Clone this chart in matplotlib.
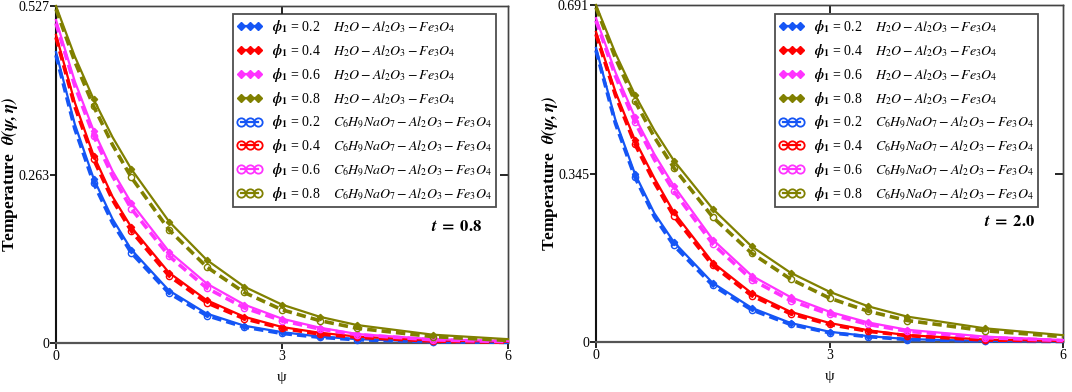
import matplotlib
matplotlib.use("Agg")
import matplotlib.pyplot as plt
from matplotlib.lines import Line2D

plt.rcParams['mathtext.fontset'] = 'stix'
plt.rcParams['font.family'] = ['Liberation Serif', 'DejaVu Serif']

psi = [0, 0.25, 0.5, 0.75, 1, 1.5, 2, 2.5, 3, 3.5, 4, 5, 6]
phi_labels = ["0.2", "0.4", "0.6", "0.8"]
colors = ['#1555f5', '#ff0000', '#ff33ff', '#808000']

# t = 0.8 panel
left_h2o = [
    [0.455, 0.342, 0.257, 0.194, 0.146, 0.082, 0.046, 0.027, 0.017, 0.010, 0.006, 0.002, 0.001],
    [0.482, 0.376, 0.293, 0.229, 0.181, 0.110, 0.067, 0.041, 0.025, 0.016, 0.010, 0.004, 0.002],
    [0.505, 0.409, 0.332, 0.269, 0.219, 0.143, 0.093, 0.060, 0.038, 0.024, 0.014, 0.006, 0.003],
    [0.527, 0.448, 0.381, 0.322, 0.272, 0.190, 0.130, 0.088, 0.060, 0.041, 0.028, 0.013, 0.006],
]
left_c6 = [
    [0.450, 0.335, 0.250, 0.188, 0.141, 0.078, 0.043, 0.025, 0.015, 0.009, 0.005, 0.002, 0.001],
    [0.478, 0.370, 0.287, 0.224, 0.175, 0.105, 0.063, 0.038, 0.023, 0.014, 0.009, 0.003, 0.001],
    [0.500, 0.402, 0.324, 0.261, 0.210, 0.136, 0.086, 0.055, 0.035, 0.022, 0.013, 0.005, 0.002],
    [0.522, 0.440, 0.370, 0.310, 0.259, 0.177, 0.119, 0.079, 0.052, 0.035, 0.023, 0.010, 0.004],
]
# t = 2.0 panel
right_h2o = [
    [0.603, 0.455, 0.345, 0.264, 0.205, 0.121, 0.070, 0.039, 0.021, 0.012, 0.006, 0.002, 0.001],
    [0.636, 0.513, 0.414, 0.336, 0.266, 0.163, 0.100, 0.062, 0.039, 0.024, 0.014, 0.005, 0.002],
    [0.664, 0.553, 0.461, 0.385, 0.320, 0.210, 0.136, 0.092, 0.062, 0.040, 0.025, 0.011, 0.004],
    [0.691, 0.592, 0.507, 0.434, 0.372, 0.273, 0.196, 0.142, 0.103, 0.073, 0.052, 0.028, 0.014],
]
right_c6 = [
    [0.598, 0.448, 0.338, 0.257, 0.198, 0.116, 0.066, 0.036, 0.019, 0.011, 0.005, 0.002, 0.001],
    [0.631, 0.506, 0.406, 0.327, 0.258, 0.157, 0.095, 0.058, 0.036, 0.022, 0.013, 0.004, 0.002],
    [0.659, 0.545, 0.451, 0.374, 0.309, 0.201, 0.128, 0.085, 0.057, 0.036, 0.022, 0.009, 0.003],
    [0.686, 0.582, 0.494, 0.420, 0.357, 0.256, 0.182, 0.129, 0.090, 0.063, 0.044, 0.023, 0.011],
]
left_yticks = [0, 0.263, 0.527]
right_yticks = [0, 0.345, 0.691]
xticks = [0, 3, 6]
marker_idx = [2, 4, 5, 6, 7, 8, 9, 10, 11]

fig = plt.figure(figsize=(10.72, 3.92), dpi=100)
ax1 = fig.add_axes([56/1072, 49/392, 452/1072, 337/392])
ax2 = fig.add_axes([596/1072, 50/392, 467/1072, 337/392])


def panel(ax, h2o, c6, yticks, ylabels, tlabel, tpos, legbox, ylab_x):
    for i in range(4):
        ax.plot(psi, h2o[i], '-', color=colors[i], lw=1.6, marker='D', ms=3.2,
                markevery=marker_idx, clip_on=False, zorder=3)
        ax.plot(psi, c6[i], '--', color=colors[i], lw=2.6, dashes=(2.6, 1.4),
                marker='o', ms=4.5, mfc='none', mew=1.0, markevery=marker_idx,
                clip_on=False, zorder=3)
    ax.set_xlim(0, 6)
    ax.set_ylim(0, yticks[-1])
    ax.set_xticks(xticks)
    ax.set_xticklabels([str(v) for v in xticks])
    ax.set_yticks(yticks)
    ax.set_yticklabels(ylabels)
    ax.tick_params(axis='both', which='both', labelsize=10, direction='out',
                   length=4, width=1.2, pad=1)
    top = ax.secondary_xaxis('top')
    top.set_xticks([3])
    top.tick_params(direction='in', length=6, width=1.2, labeltop=False)
    right = ax.secondary_yaxis('right')
    right.set_yticks([yticks[1]])
    right.tick_params(direction='in', length=6, width=1.2, labelright=False)
    ax.spines['left'].set_linewidth(1.5)
    ax.spines['left'].set_color('#111111')
    ax.spines['bottom'].set_linewidth(1.6)
    ax.spines['bottom'].set_color('#555555')
    for s in ['top', 'right']:
        ax.spines[s].set_linewidth(1.0)
        ax.spines[s].set_color('#444444')
    top.spines['top'].set_linewidth(1.0)
    top.spines['top'].set_color('#444444')
    right.spines['right'].set_linewidth(1.0)
    right.spines['right'].set_color('#444444')
    ax.set_xlabel('ψ', fontsize=11, labelpad=6)
    ax.set_ylabel(r'Temperature  $\mathbfit{\theta(\psi,\eta)}$', fontsize=12.5,
                  fontweight='bold')
    ax.yaxis.set_label_coords(ylab_x, 0.5)
    ax.text(tpos[0], tpos[1], tlabel, transform=ax.transAxes, fontsize=12,
            ha='left', va='center')

    handles = []
    labels = []
    for i in range(4):
        handles.append(Line2D([], [], color=colors[i], lw=1.6, marker='D', ms=4.5))
        labels.append(r'$\mathbfit{\phi}_\mathbf{1}$ = ' + phi_labels[i] +
                      r'    $H_2O - Al_2O_3 - Fe_3O_4$')
    for i in range(4):
        handles.append(Line2D([], [], color=colors[i], lw=1.6, marker='o', ms=6,
                              mfc='none', mew=1.3))
        labels.append(r'$\mathbfit{\phi}_\mathbf{1}$ = ' + phi_labels[i] +
                      r'    $C_6H_9NaO_7 - Al_2O_3 - Fe_3O_4$')
    leg = ax.legend(handles, labels, loc='upper left', bbox_to_anchor=legbox,
                    numpoints=3, handlelength=1.8, handletextpad=0.7,
                    fontsize=10, frameon=True, fancybox=False,
                    borderpad=0.3, labelspacing=0.42, borderaxespad=0)
    leg.get_frame().set_edgecolor('#222222')
    leg.get_frame().set_linewidth(1.3)


panel(ax1, left_h2o, left_c6, left_yticks, ['0', '0.263', '0.527'],
      r'$\mathbfit{t}\;\mathbf{=}\;\mathbf{0.8}$', (0.83, 0.345),
      ((233-56)/452, (343-14)/337), -0.08)
panel(ax2, right_h2o, right_c6, right_yticks, ['0', '0.345', '0.691'],
      r'$\mathbfit{t}\;\mathbf{=}\;\mathbf{2.0}$', (0.83, 0.355),
      ((775-596)/467, (342-14)/337), -0.078)

fig.savefig('out.png', dpi=100)
